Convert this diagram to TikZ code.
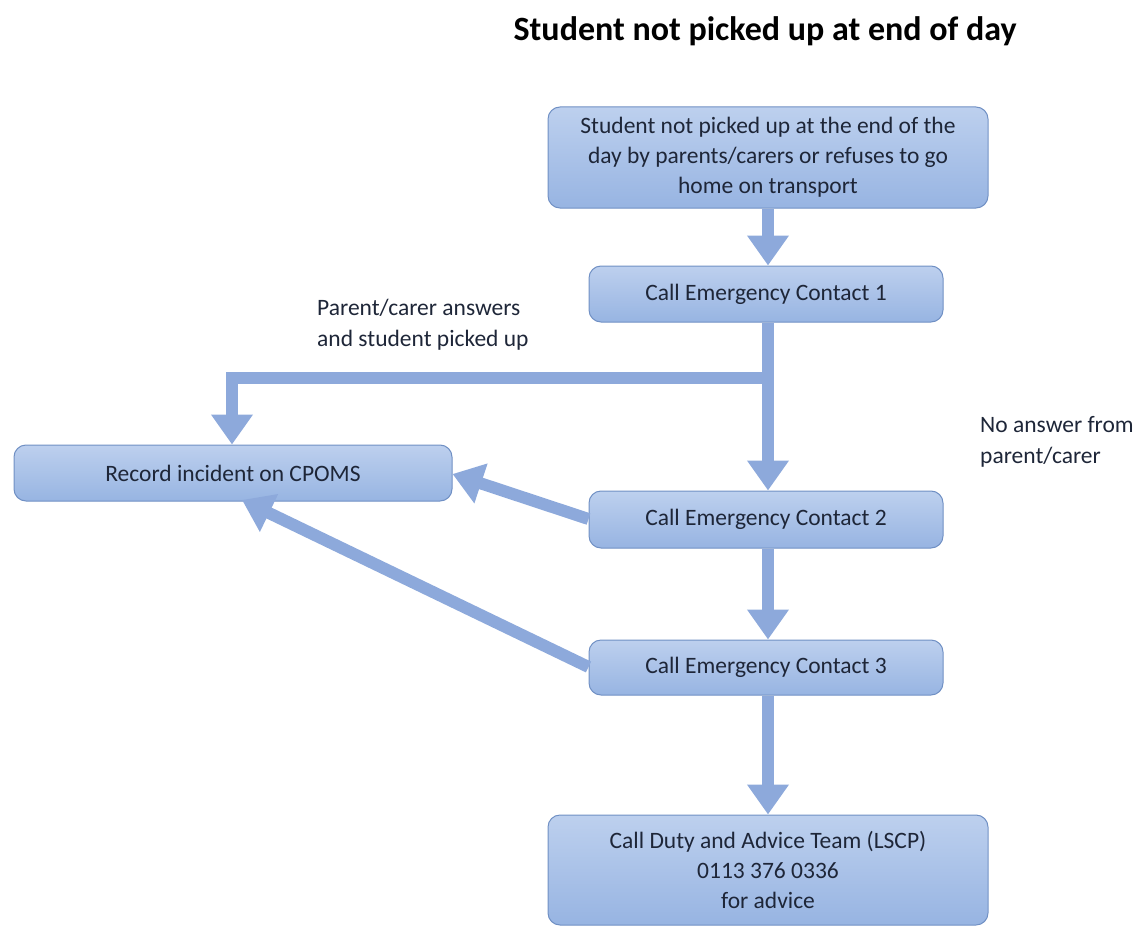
\documentclass[tikz,border=0pt]{standalone}
\usepackage{fontspec}
\setmainfont{Carlito}
\usetikzlibrary{arrows.meta}
\definecolor{boxtop}{HTML}{BDD0EE}
\definecolor{boxbot}{HTML}{97B4E2}
\definecolor{boxline}{HTML}{7090C4}
\definecolor{arr}{HTML}{8DA9DB}
\definecolor{txt}{HTML}{1E2638}
\tikzset{
  flowbox/.style={draw=boxline, line width=1pt, rounded corners=12pt, top color=boxtop, bottom color=boxbot,
    align=center, font=\fontsize{23.5}{30}\selectfont, text=txt, inner sep=0pt},
  bigarrow/.style={draw=arr, line width=12pt, -{Triangle[width=40pt,length=30pt]}},
  note/.style={align=left, font=\fontsize{23.5}{31}\selectfont, text=txt, anchor=north west, inner sep=0pt}
}
\begin{document}
\begin{tikzpicture}[x=1pt,y=1pt]
\useasboundingbox (0,0) rectangle (1142,-928);
\node[font=\bfseries\fontsize{34}{40}\selectfont, text=black] (title) at (765,-31) {Student not picked up at end of day};

\node[flowbox, minimum width=440pt, minimum height=101pt] (start) at (768,-157.5)
  {Student not picked up at the end of the\\day by parents/carers or refuses to go\\home on transport};
\node[flowbox, minimum width=354pt, minimum height=56pt] (c1) at (766,-294) {Call Emergency Contact 1};
\node[flowbox, minimum width=438pt, minimum height=56pt] (rec) at (233,-473) {Record incident on CPOMS};
\node[flowbox, minimum width=354pt, minimum height=57pt] (c2) at (766,-519.5) {Call Emergency Contact 2};
\node[flowbox, minimum width=354pt, minimum height=55pt] (c3) at (766,-667.5) {Call Emergency Contact 3};
\node[flowbox, minimum width=440pt, minimum height=110pt] (duty) at (768,-870)
  {Call Duty and Advice Team (LSCP)\\0113 376 0336\\for advice};

\node[note] (lab1) at (317,-299) {Parent/carer answers\\and student picked up};
\node[note] (lab2) at (980,-416) {No answer from\\parent/carer};

\coordinate (split) at (768,-378);
\coordinate (corner) at (232,-378);

\draw[bigarrow] (start.south -| 768,0) -- (c1.north -| 768,0);
\draw[bigarrow] (c1.south -| 768,0) -- (c2.north -| 768,0);
\draw[bigarrow] (split) -- (corner) -- (rec.north -| corner);
\draw[bigarrow] (c2.west |- 0,-519) -- (rec.east |- 0,-474);
\draw[bigarrow] (c3.west |- 0,-667) -- (242,-500);
\draw[bigarrow] (c2.south -| 768,0) -- (c3.north -| 768,0);
\draw[bigarrow] (c3.south -| 768,0) -- (duty.north -| 768,0);
\end{tikzpicture}
\end{document}
